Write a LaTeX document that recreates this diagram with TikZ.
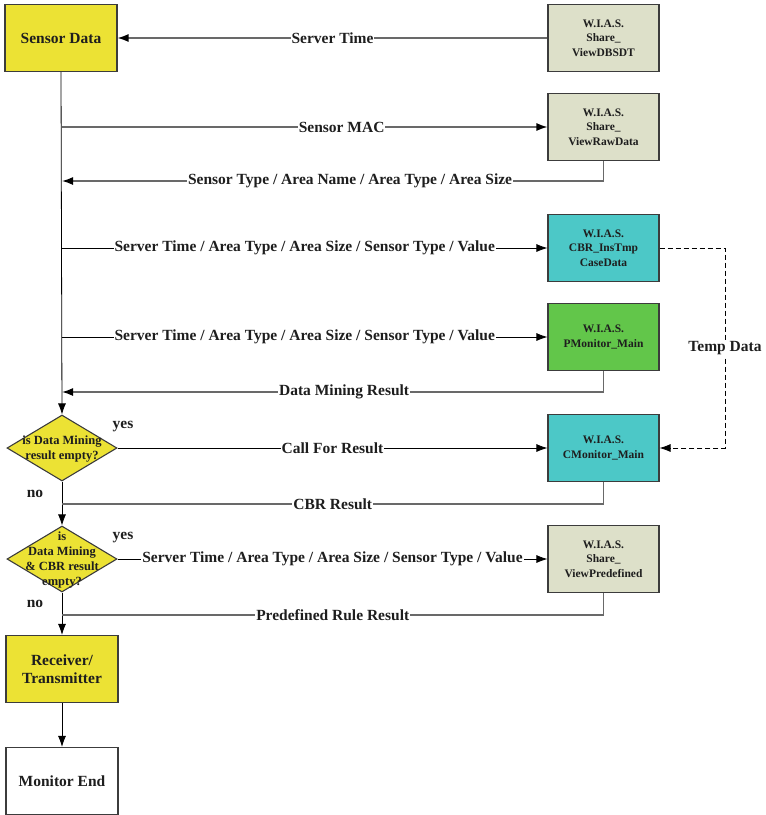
\documentclass[tikz,border=0pt]{standalone}
\usepackage{fontspec}
\setmainfont{Liberation Serif}
\usetikzlibrary{shapes.geometric,arrows.meta}

\definecolor{boxyellow}{RGB}{236,226,52}
\definecolor{boxgray}{RGB}{221,224,201}
\definecolor{boxcyan}{RGB}{76,200,199}
\definecolor{boxgreen}{RGB}{98,198,74}
\definecolor{edgegray}{RGB}{105,105,105}
\definecolor{framegray}{RGB}{60,60,60}
\definecolor{inkdark}{RGB}{30,30,30}

\begin{document}
\begin{tikzpicture}[x=1pt,y=-1pt,
  every node/.style={text=inkdark},
  bigfont/.style={font=\bfseries\fontsize{15.5}{18}\selectfont},
  box/.style={draw=framegray, line width=1.1pt, minimum width=111pt,
    minimum height=67pt, inner sep=0pt, align=center,
    font=\bfseries\fontsize{11.5}{14.5}\selectfont},
  mainbox/.style={box, minimum width=112pt, bigfont},
  decision/.style={diamond, draw=framegray, line width=1.1pt, fill=boxyellow,
    minimum width=110pt, minimum height=66pt, inner sep=0pt},
  dtext/.style={align=center, inner sep=0pt, font=\bfseries\fontsize{12.5}{15.3}\selectfont},
  tipc/.style={-{Latex[length=11pt,width=8pt,color=black]}},
  fwd/.style={draw=black, line width=0.8pt},
  ret/.style={draw=edgegray, line width=1.4pt},
  lbl/.style={fill=white, inner sep=1pt, bigfont},
  tag/.style={inner sep=0pt, bigfont}
]
\useasboundingbox (0,0) rectangle (766,815);

% left column
\node[mainbox, fill=boxyellow] (sensor) at (61,38) {Sensor Data};
\node[decision] (d1) at (62,448) {};
\node[dtext] at (62,449) {is Data Mining\\result empty?};
\node[decision] (d2) at (62,559) {};
\node[dtext] at (62,560) {is\\Data Mining\\\& CBR result\\empty?};
\node[mainbox, fill=boxyellow] (recv) at (62,669) {Receiver/\\Transmitter};
\node[mainbox, fill=white] (mend) at (62,781) {Monitor End};

% right column
\node[box, fill=boxgray] (dbsdt) at (603.5,38) {W.I.A.S.\\Share\_\\ViewDBSDT};
\node[box, fill=boxgray] (raw) at (603.5,127) {W.I.A.S.\\Share\_\\ViewRawData};
\node[box, fill=boxcyan] (cbr) at (603.5,248) {W.I.A.S.\\CBR\_InsTmp\\CaseData};
\node[box, fill=boxgreen] (pmon) at (603.5,337) {W.I.A.S.\\PMonitor\_Main};
\node[box, fill=boxcyan] (cmon) at (603.5,448) {W.I.A.S.\\CMonitor\_Main};
\node[box, fill=boxgray] (pre) at (603.5,559) {W.I.A.S.\\Share\_\\ViewPredefined};

% junctions on the main line and corners of the return lines
\coordinate (j1) at (62,127);
\coordinate (j2) at (62,181);
\coordinate (j3) at (62,248);
\coordinate (j4) at (62,337);
\coordinate (j5) at (62,392);
\coordinate (j6) at (62,504);
\coordinate (j7) at (62,615);
\coordinate (c2) at (603.5,181);
\coordinate (c5) at (603.5,392);
\coordinate (c6) at (603.5,504);
\coordinate (c7) at (603.5,615);
\coordinate (t1) at (725,248);
\coordinate (t2) at (725,448);

% main vertical flow
\draw[fwd, tipc] (sensor.south) -- (d1.north);
\draw[fwd, tipc] (d1.south) -- (d2.north);
\draw[fwd, tipc] (d2.south) -- (recv.north);
\draw[fwd, tipc] (recv.south) -- (mend.north);

% exchanges with the W.I.A.S. views
\draw[ret, tipc] (dbsdt.west) -- node[lbl]{Server Time} (sensor.east);
\draw[ret, tipc] (j1) -- node[lbl, pos=0.576]{Sensor MAC} (raw.west);
\draw[ret, tipc] (raw.south) -- (c2) -- node[lbl, pos=0.468]{Sensor Type / Area Name / Area Type / Area Size} (j2);
\draw[fwd, tipc] (j3) -- node[lbl]{Server Time / Area Type / Area Size / Sensor Type / Value} (cbr.west);
\draw[fwd, tipc] (j4) -- node[lbl]{Server Time / Area Type / Area Size / Sensor Type / Value} (pmon.west);
\draw[ret, tipc] (pmon.south) -- (c5) -- node[lbl, pos=0.479]{Data Mining Result} (j5);
\draw[fwd, tipc] (d1.east) -- node[lbl]{Call For Result} (cmon.west);
\draw[ret] (cmon.south) -- (c6) -- node[lbl]{CBR Result} (j6);
\draw[fwd, tipc] (d2.east) -- node[lbl]{Server Time / Area Type / Area Size / Sensor Type / Value} (pre.west);
\draw[ret] (pre.south) -- (c7) -- node[lbl]{Predefined Rule Result} (j7);

% temporary case data handed over to the monitor
\draw[fwd, dash pattern=on 5pt off 3pt, tipc] (cbr.east) -- (t1) -- node[lbl]{Temp Data} (t2) -- (cmon.east);

% branch tags
\node[tag] (y1) at (123,427) {yes};
\node[tag] (n1) at (35,494) {no};
\node[tag] (y2) at (123,538) {yes};
\node[tag] (n2) at (35,604) {no};
\end{tikzpicture}
\end{document}
